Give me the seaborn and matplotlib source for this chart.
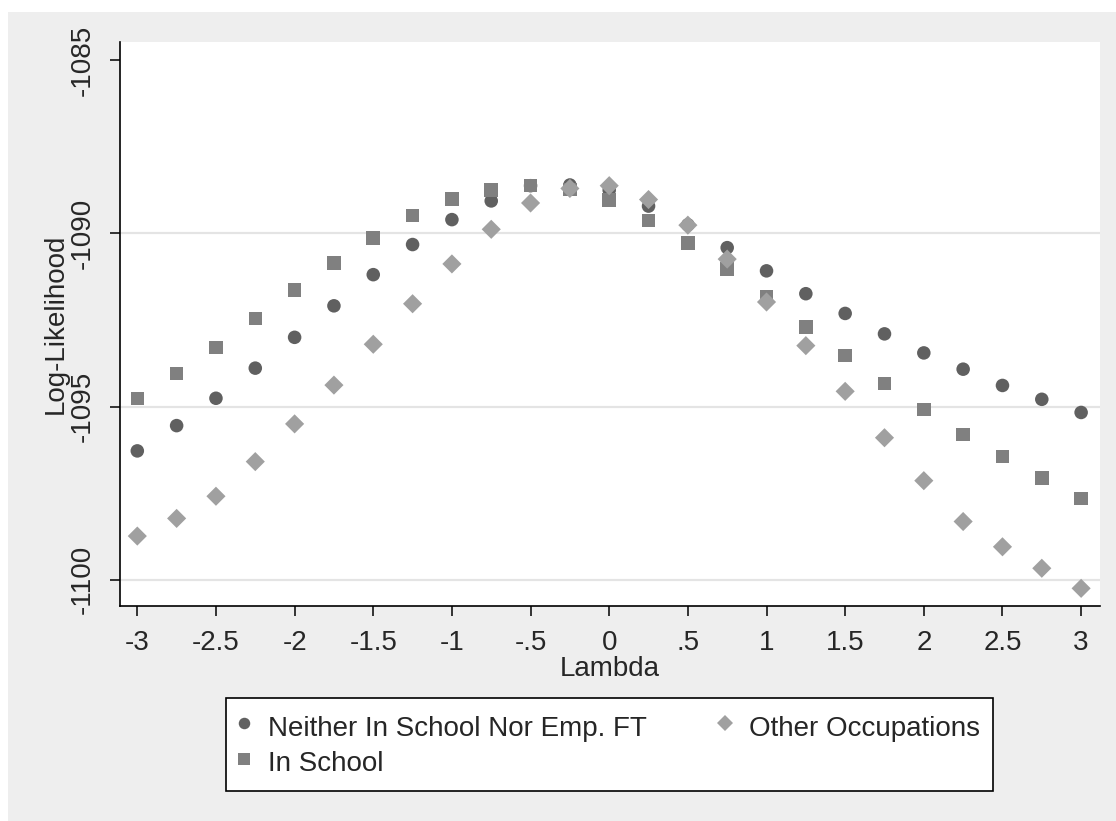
import matplotlib

matplotlib.use("Agg")
import matplotlib.pyplot as plt
import pandas as pd
import seaborn as sns
from matplotlib.patches import Rectangle

LAMBDAS = [-3, -2.75, -2.5, -2.25, -2, -1.75, -1.5, -1.25, -1, -0.75, -0.5, -0.25,
           0, 0.25, 0.5, 0.75, 1, 1.25, 1.5, 1.75, 2, 2.25, 2.5, 2.75, 3]
NEITHER = [-1096.28, -1095.55, -1094.76, -1093.89, -1093.00, -1092.09, -1091.19,
           -1090.32, -1089.60, -1089.06, -1088.62, -1088.60, -1088.75, -1089.21,
           -1089.75, -1090.41, -1091.08, -1091.74, -1092.31, -1092.90, -1093.45,
           -1093.92, -1094.39, -1094.79, -1095.17]
IN_SCHOOL = [-1094.77, -1094.05, -1093.30, -1092.45, -1091.63, -1090.85, -1090.13,
             -1089.48, -1089.00, -1088.74, -1088.61, -1088.73, -1089.04, -1089.62,
             -1090.27, -1091.02, -1091.83, -1092.70, -1093.52, -1094.33, -1095.09,
             -1095.81, -1096.44, -1097.07, -1097.66]
OTHER = [-1098.74, -1098.23, -1097.59, -1096.59, -1095.50, -1094.38, -1093.20,
         -1092.03, -1090.88, -1089.88, -1089.12, -1088.70, -1088.62, -1089.02,
         -1089.76, -1090.74, -1091.98, -1093.24, -1094.56, -1095.90, -1097.14,
         -1098.32, -1099.05, -1099.67, -1100.25]

SERIES = ["Neither In School Nor Emp. FT", "In School", "Other Occupations"]
COLORS = {SERIES[0]: "#606060", SERIES[1]: "#808080", SERIES[2]: "#a0a0a0"}
MARKERS = {SERIES[0]: "o", SERIES[1]: "s", SERIES[2]: "D"}
X_TICKS = [-3, -2.5, -2, -1.5, -1, -0.5, 0, 0.5, 1, 1.5, 2, 2.5, 3]
X_TICK_LABELS = ["-3", "-2.5", "-2", "-1.5", "-1", "-.5", "0", ".5", "1", "1.5", "2", "2.5", "3"]
Y_TICKS = [-1100, -1095, -1090, -1085]

frame = pd.concat(
    [
        pd.DataFrame({"Lambda": LAMBDAS, "LogLik": values, "Group": name})
        for name, values in zip(SERIES, [NEITHER, IN_SCHOOL, OTHER])
    ],
    ignore_index=True,
)

sns.set_style("white")
plt.rcParams["font.family"] = ["Liberation Sans", "DejaVu Sans"]
FS = 20

W, H = 1116, 821
fig = plt.figure(figsize=(W / 100, H / 100), dpi=100, facecolor="white")
fig.patches.append(
    Rectangle((8 / W, 0), 1 - 8 / W, 1 - 12 / H, transform=fig.transFigure,
              facecolor="#eeeeee", edgecolor="none", zorder=-10)
)
ax = fig.add_axes([120 / W, (H - 606) / H, 980 / W, (606 - 42) / H])
ax.set_facecolor("white")

for y in [-1090, -1095, -1100]:
    ax.axhline(y, color="#e4e4e4", linewidth=1.6, zorder=0)

sns.scatterplot(
    data=frame, x="Lambda", y="LogLik", hue="Group", style="Group",
    palette=COLORS, markers=MARKERS, hue_order=SERIES, style_order=SERIES,
    s=95, linewidth=0, ax=ax, zorder=3,
)

ax.set_xlim(-3.11, 3.12)
ax.set_ylim(-1100.76, -1084.47)
ax.set_xticks(X_TICKS)
ax.set_xticklabels(X_TICK_LABELS)
ax.set_yticks(Y_TICKS)
ax.set_yticklabels([str(t) for t in Y_TICKS], rotation=90, va="center")
ax.tick_params(axis="both", length=7.5, width=1.1, color="black", labelsize=FS,
               direction="out", bottom=True, left=True)
ax.tick_params(axis="x", pad=10)
ax.tick_params(axis="y", pad=10)
for side in ["top", "right"]:
    ax.spines[side].set_visible(False)
for side in ["left", "bottom"]:
    ax.spines[side].set_color("black")
    ax.spines[side].set_linewidth(1.2)

ax.set_xlabel("Lambda", fontsize=FS, labelpad=0)
ax.set_ylabel("Log-Likelihood", fontsize=FS, labelpad=1)

handles, labels = ax.get_legend_handles_labels()
ax.legend(
    handles, labels, ncol=2, loc="upper left", mode="expand",
    bbox_to_anchor=(106 / 980, -(92 + 91) / 564, 767 / 980, 91 / 564),
    borderaxespad=0, frameon=True, fancybox=False, edgecolor="black",
    framealpha=1, fontsize=FS, markerscale=0.85, handletextpad=0.67,
    labelspacing=0.12, borderpad=0.45, handlelength=0.4, handleheight=1.4,
).get_frame().set_linewidth(1.2)

fig.savefig("out.png", dpi=100, facecolor=fig.get_facecolor())
